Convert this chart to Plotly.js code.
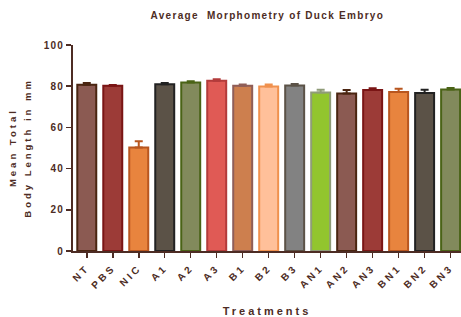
<!DOCTYPE html>
<html>
<head>
<meta charset="utf-8">
<script src="https://cdn.plot.ly/plotly-3.0.1.min.js"></script>
<style>
html,body{margin:0;padding:0;background:#fff;}
.gtitle{letter-spacing:1.3px;}
.g-xtitle text{letter-spacing:3px;}
.annotation text{letter-spacing:3px;}
.xtick text{letter-spacing:3px;}
.ytick text{letter-spacing:1.2px;}
</style>
</head>
<body>
<div id="chart" style="width:461px;height:317px;"></div>
<script>
const categories = ["NT","PBS","NIC","A1","A2","A3","B1","B2","B3","AN1","AN2","AN3","BN1","BN2","BN3"];
const meanLength = [80.7,80.2,50.3,81.0,81.8,82.7,80.2,79.8,80.4,76.9,76.5,78.2,77.2,76.7,78.4];
const errorUp = [0.8,0.4,3.0,0.6,0.6,0.7,0.6,1.0,0.7,1.4,1.6,0.8,1.6,1.6,0.7];
const fillColors = ["#8B5A52","#9C3B37","#E8843E","#5B5247","#828A5C","#E05A55","#CD7F4E","#FFC09A","#828282","#92C52E","#8B5A52","#9C3B37","#E8843E","#5B5247","#828A5C"];
const lineColors = ["#4A2511","#7A1515","#B8561F","#222222","#4A6316","#B33B3B","#8F5E58","#F0914E","#5B5247","#8F9C78","#4A2511","#7A1515","#B8561F","#222222","#4A6316"];
const yTitleLines = ["Mean Total", "Body Length in mm"];

const textColor = "#4D2C24";
const fontFam = "Liberation Sans, Arial, sans-serif";

const traces = categories.map((c, i) => ({
  type: "bar",
  x: [c],
  y: [meanLength[i]],
  width: 0.73,
  marker: {color: fillColors[i], line: {color: lineColors[i], width: 2}},
  error_y: {type: "data", symmetric: false, array: [errorUp[i]], arrayminus: [0],
            color: lineColors[i], thickness: 2, width: 4},
  showlegend: false,
  hoverinfo: "skip"
}));

const yTitleX = [-0.157, -0.118];
const annotations = yTitleLines.map((t, i) => ({
  text: t, xref: "paper", yref: "paper", x: yTitleX[i], y: 0.5,
  xanchor: "center", yanchor: "middle", textangle: -90, showarrow: false,
  font: {size: 9.5, weight: "bold", color: textColor, family: fontFam}
}));

const layout = {
  width: 461, height: 317,
  margin: {l: 73, r: 0, t: 45, b: 66},
  paper_bgcolor: "#fff", plot_bgcolor: "#fff",
  barmode: "overlay",
  font: {family: fontFam, color: textColor},
  title: {text: "Average\u00a0 Morphometry of Duck Embryo",
          font: {size: 10, weight: "bold", color: textColor, family: fontFam},
          x: 0.58, xanchor: "center", y: 0.95, yanchor: "middle"},
  annotations: annotations,
  xaxis: {
    type: "category",
    range: [-0.53, 14.4],
    tickangle: -45,
    ticks: "outside", ticklen: 5, tickwidth: 1.5, tickcolor: textColor,
    showline: true, linecolor: textColor, linewidth: 2,
    showgrid: false, zeroline: false,
    tickfont: {size: 10, weight: "bold", color: textColor, family: fontFam},
    title: {text: "Treatments", standoff: 19,
            font: {size: 11, weight: "bold", color: textColor, family: fontFam}}
  },
  yaxis: {
    range: [0, 100],
    tickvals: [0,20,40,60,80,100],
    ticks: "outside", ticklen: 5, tickwidth: 1.5, tickcolor: textColor,
    showline: true, linecolor: textColor, linewidth: 2,
    showgrid: false, zeroline: false,
    tickfont: {size: 10, weight: "bold", color: textColor, family: fontFam}
  }
};

Plotly.newPlot("chart", traces, layout, {displayModeBar: false, staticPlot: true});
</script>
</body>
</html>
